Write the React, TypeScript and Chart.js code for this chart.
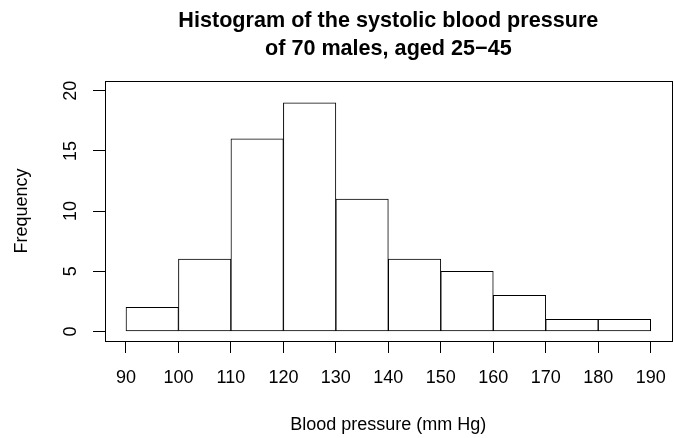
import React, { useEffect, useRef } from 'react';
import { Chart, registerables } from 'chart.js';

Chart.register(...registerables);

const breaks = [90, 100, 110, 120, 130, 140, 150, 160, 170, 180, 190];
const counts = [2, 6, 16, 19, 11, 6, 5, 3, 1, 1];
const xTicks = [90, 100, 110, 120, 130, 140, 150, 160, 170, 180, 190];
const yTicks = [0, 5, 10, 15, 20];
const titleLines = ['Histogram of the systolic blood pressure', 'of 70 males, aged 25\u221245'];
const xLabel = 'Blood pressure (mm Hg)';
const yLabel = 'Frequency';

const FONT = "'Liberation Sans', Arial, Helvetica, sans-serif";

const boxPlugin = {
  id: 'plotBox',
  afterDatasetsDraw(chart: any) {
    const { ctx, chartArea: a } = chart;
    ctx.save();
    ctx.strokeStyle = '#000';
    ctx.lineWidth = 1;
    const l = Math.round(a.left) + 0.5;
    const t = Math.round(a.top) + 0.5;
    const r = Math.round(a.right) + 0.5;
    const b = Math.round(a.bottom) + 0.5;
    ctx.strokeRect(l, t, r - l, b - t);
    ctx.restore();
  },
};

export default function App() {
  const ref = useRef<HTMLCanvasElement | null>(null);

  useEffect(() => {
    if (!ref.current) return;
    const data = counts.map((c, i) => ({ x: (breaks[i] + breaks[i + 1]) / 2, y: c }));
    const chart = new Chart(ref.current, {
      type: 'bar',
      data: {
        datasets: [
          {
            label: 'Frequency',
            data,
            backgroundColor: '#ffffff',
            borderColor: '#000000',
            borderWidth: 1,
            borderSkipped: false,
            barPercentage: 1,
            categoryPercentage: 1,
          } as any,
        ],
      },
      options: {
        animation: false,
        responsive: false,
        devicePixelRatio: 1,
        layout: { padding: { left: 0, right: 4, top: 0, bottom: 0 } },
        plugins: {
          legend: { display: false },
          tooltip: { enabled: false },
          title: {
            display: true,
            text: titleLines,
            fullSize: false,
            color: '#000',
            font: { family: FONT, size: 21.6, weight: 'bold', lineHeight: 1.3 },
            padding: { top: 7, bottom: 18 },
          },
        },
        scales: {
          x: {
            type: 'linear',
            min: 86,
            max: 194,
            offset: false,
            grid: {
              offset: false,
              display: true,
              drawOnChartArea: false,
              drawTicks: true,
              tickLength: 12,
              color: '#000',
              lineWidth: 1,
            },
            border: { display: false },
            afterBuildTicks: (scale: any) => {
              scale.ticks = xTicks.map((v) => ({ value: v }));
            },
            afterFit: (scale: any) => {
              scale.height = 97;
            },
            ticks: {
              autoSkip: false,
              maxRotation: 0,
              minRotation: 0,
              color: '#000',
              padding: 14,
              font: { family: FONT, size: 18 },
              callback: (v: any) => String(v),
            },
            title: {
              display: true,
              text: xLabel,
              color: '#000',
              font: { family: FONT, size: 18 },
              padding: { top: 0, bottom: 2 },
            },
          },
          y: {
            type: 'linear',
            min: -0.8,
            max: 20.8,
            grid: {
              display: true,
              drawOnChartArea: false,
              drawTicks: true,
              tickLength: 12,
              color: '#000',
              lineWidth: 1,
            },
            border: { display: false },
            afterBuildTicks: (scale: any) => {
              scale.ticks = yTicks.map((v) => ({ value: v }));
            },
            afterFit: (scale: any) => {
              scale.width = 105;
            },
            ticks: {
              autoSkip: false,
              minRotation: 90,
              maxRotation: 90,
              crossAlign: 'center',
              color: '#000',
              padding: 12,
              font: { family: FONT, size: 18 },
              callback: (v: any) => String(v),
            },
            title: {
              display: true,
              text: yLabel,
              color: '#000',
              font: { family: FONT, size: 18 },
              padding: { top: 11, bottom: 0 },
            },
          },
        },
      } as any,
      plugins: [boxPlugin],
    });
    return () => chart.destroy();
  }, []);

  return (
    <div
      style={{
        position: 'absolute',
        left: 0,
        top: 0,
        width: 674,
        height: 438,
        overflow: 'hidden',
        background: '#fff',
      }}
    >
      <canvas ref={ref} width={680} height={438} style={{ display: 'block', width: 680, height: 438 }} />
    </div>
  );
}
